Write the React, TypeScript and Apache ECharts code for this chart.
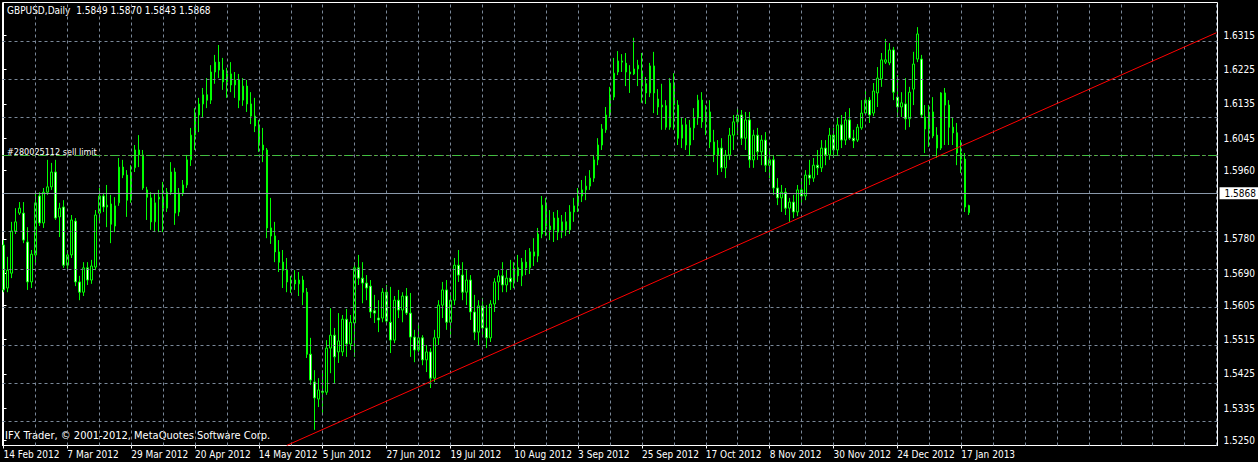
import React, { useEffect, useRef } from "react";
import * as echarts from "echarts";

const FONT = "'Liberation Sans Narrow', 'Arial Narrow', 'DejaVu Sans Condensed', sans-serif";

const symbolTitle = "GBPUSD,Daily";
const dateLabels = [
  "14 Feb 2012", "7 Mar 2012", "29 Mar 2012", "20 Apr 2012", "14 May 2012", "5 Jun 2012",
  "27 Jun 2012", "19 Jul 2012", "10 Aug 2012", "3 Sep 2012", "25 Sep 2012", "17 Oct 2012",
  "8 Nov 2012", "30 Nov 2012", "24 Dec 2012", "17 Jan 2013",
];
const priceTicks = [1.6315, 1.6225, 1.6135, 1.6045, 1.596, 1.578, 1.569, 1.5605, 1.5515, 1.5425, 1.5335, 1.525];

const opens = [
  1.5764, 1.5651, 1.5690, 1.5801, 1.5848, 1.5848, 1.5772, 1.5667, 1.5738, 1.5893, 1.5822, 1.5903, 1.5917, 1.5956, 1.5838, 1.5864,
  1.5711, 1.5738, 1.5827, 1.5667, 1.5640, 1.5704, 1.5672, 1.5706, 1.5848, 1.5893, 1.5864, 1.5872, 1.5814, 1.5875, 1.5969, 1.5948,
  1.5882, 1.5967, 1.6014, 1.6001, 1.5909, 1.5888, 1.5825, 1.5885, 1.5890, 1.5861, 1.5903, 1.5956, 1.5851, 1.5901, 1.5922, 1.5988,
  1.6053, 1.6106, 1.6135, 1.6159, 1.6145, 1.6219, 1.6245, 1.6224, 1.6193, 1.6214, 1.6185, 1.6198, 1.6145, 1.6182, 1.6135, 1.6103,
  1.6077, 1.6027, 1.6014, 1.5809, 1.5788, 1.5746, 1.5719, 1.5698, 1.5667, 1.5672, 1.5662, 1.5672, 1.5640, 1.5477, 1.5404, 1.5359,
  1.5380, 1.5377, 1.5493, 1.5527, 1.5483, 1.5483, 1.5569, 1.5504, 1.5559, 1.5704, 1.5677, 1.5664, 1.5656, 1.5591, 1.5572, 1.5572,
  1.5640, 1.5561, 1.5514, 1.5619, 1.5593, 1.5630, 1.5585, 1.5522, 1.5488, 1.5520, 1.5462, 1.5483, 1.5414, 1.5520, 1.5606, 1.5646,
  1.5561, 1.5619, 1.5711, 1.5685, 1.5640, 1.5672, 1.5588, 1.5535, 1.5604, 1.5546, 1.5520, 1.5609, 1.5667, 1.5683, 1.5659, 1.5677,
  1.5667, 1.5704, 1.5683, 1.5719, 1.5704, 1.5746, 1.5735, 1.5793, 1.5869, 1.5814, 1.5804, 1.5835, 1.5798, 1.5825, 1.5804, 1.5851,
  1.5867, 1.5893, 1.5909, 1.5919, 1.5940, 1.5988, 1.6027, 1.6067, 1.6106, 1.6153, 1.6219, 1.6248, 1.6242, 1.6219, 1.6214, 1.6227,
  1.6219, 1.6188, 1.6164, 1.6235, 1.6148, 1.6127, 1.6130, 1.6074, 1.6190, 1.6132, 1.6045, 1.6080, 1.6027, 1.6072, 1.6098, 1.6145,
  1.6088, 1.6114, 1.6035, 1.6001, 1.6019, 1.5967, 1.6001, 1.6053, 1.6088, 1.6106, 1.6045, 1.6093, 1.5988, 1.6053, 1.6009, 1.6040,
  1.5974, 1.5988, 1.5914, 1.5888, 1.5903, 1.5861, 1.5877, 1.5851, 1.5909, 1.5893, 1.5948, 1.5940, 1.5974, 1.5967, 1.6019, 1.6001,
  1.6053, 1.6014, 1.6080, 1.6040, 1.6093, 1.6045, 1.6040, 1.6072, 1.6111, 1.6145, 1.6111, 1.6164, 1.6201, 1.6245, 1.6243, 1.6277,
  1.6153, 1.6127, 1.6135, 1.6096, 1.6174, 1.6253, 1.6253, 1.6101, 1.6069, 1.6114, 1.6053, 1.6019, 1.6164, 1.6132, 1.6074, 1.6059,
  1.6006, 1.5990, 1.5849,
];
const highs = [
  1.5777, 1.5733, 1.5825, 1.5861, 1.5877, 1.5877, 1.5811, 1.5751, 1.5901, 1.5903, 1.5914, 1.5988, 1.5980, 1.5988, 1.5875, 1.5882,
  1.5751, 1.5843, 1.5835, 1.5683, 1.5719, 1.5719, 1.5725, 1.5856, 1.5914, 1.5901, 1.5922, 1.5896, 1.5890, 1.5993, 1.5988, 1.5961,
  1.5974, 1.6027, 1.6053, 1.6014, 1.5917, 1.5903, 1.5901, 1.5909, 1.5930, 1.5914, 1.5982, 1.5967, 1.5914, 1.5935, 1.6001, 1.6072,
  1.6124, 1.6151, 1.6177, 1.6203, 1.6237, 1.6264, 1.6290, 1.6256, 1.6230, 1.6245, 1.6219, 1.6214, 1.6203, 1.6198, 1.6166, 1.6151,
  1.6093, 1.6072, 1.6019, 1.5888, 1.5825, 1.5777, 1.5751, 1.5730, 1.5683, 1.5698, 1.5693, 1.5683, 1.5651, 1.5520, 1.5435, 1.5414,
  1.5435, 1.5514, 1.5598, 1.5546, 1.5585, 1.5580, 1.5596, 1.5580, 1.5719, 1.5738, 1.5719, 1.5685, 1.5672, 1.5633, 1.5619, 1.5651,
  1.5659, 1.5654, 1.5630, 1.5646, 1.5640, 1.5651, 1.5638, 1.5541, 1.5554, 1.5527, 1.5501, 1.5493, 1.5541, 1.5619, 1.5667, 1.5672,
  1.5640, 1.5730, 1.5751, 1.5719, 1.5698, 1.5685, 1.5633, 1.5619, 1.5625, 1.5606, 1.5619, 1.5677, 1.5698, 1.5719, 1.5698, 1.5725,
  1.5719, 1.5738, 1.5730, 1.5751, 1.5756, 1.5782, 1.5809, 1.5893, 1.5888, 1.5856, 1.5851, 1.5856, 1.5843, 1.5851, 1.5869, 1.5888,
  1.5914, 1.5935, 1.5946, 1.5961, 1.6001, 1.6045, 1.6082, 1.6127, 1.6180, 1.6256, 1.6274, 1.6266, 1.6269, 1.6237, 1.6309, 1.6251,
  1.6269, 1.6206, 1.6243, 1.6272, 1.6174, 1.6188, 1.6145, 1.6203, 1.6216, 1.6145, 1.6098, 1.6098, 1.6093, 1.6124, 1.6159, 1.6166,
  1.6132, 1.6145, 1.6067, 1.6040, 1.6045, 1.6014, 1.6072, 1.6106, 1.6124, 1.6119, 1.6114, 1.6114, 1.6067, 1.6072, 1.6053, 1.6061,
  1.6019, 1.6001, 1.5940, 1.5922, 1.5914, 1.5888, 1.5896, 1.5922, 1.5940, 1.5961, 1.5988, 1.5993, 1.6014, 1.6040, 1.6040, 1.6072,
  1.6072, 1.6098, 1.6106, 1.6114, 1.6124, 1.6067, 1.6082, 1.6145, 1.6169, 1.6153, 1.6190, 1.6232, 1.6269, 1.6306, 1.6295, 1.6285,
  1.6211, 1.6166, 1.6203, 1.6180, 1.6272, 1.6337, 1.6264, 1.6132, 1.6132, 1.6153, 1.6074, 1.6166, 1.6177, 1.6145, 1.6098, 1.6085,
  1.6040, 1.6006, 1.5870,
];
const lows = [
  1.5640, 1.5640, 1.5677, 1.5793, 1.5843, 1.5769, 1.5646, 1.5651, 1.5717, 1.5814, 1.5809, 1.5896, 1.5909, 1.5830, 1.5785, 1.5704,
  1.5698, 1.5730, 1.5656, 1.5619, 1.5630, 1.5659, 1.5662, 1.5698, 1.5822, 1.5851, 1.5811, 1.5769, 1.5798, 1.5867, 1.5940, 1.5838,
  1.5875, 1.5956, 1.5969, 1.5909, 1.5830, 1.5804, 1.5798, 1.5798, 1.5798, 1.5851, 1.5896, 1.5817, 1.5840, 1.5893, 1.5914, 1.5972,
  1.6014, 1.6061, 1.6098, 1.6124, 1.6135, 1.6188, 1.6203, 1.6172, 1.6151, 1.6166, 1.6151, 1.6124, 1.6130, 1.6114, 1.6082, 1.6061,
  1.6009, 1.5982, 1.5782, 1.5767, 1.5719, 1.5693, 1.5651, 1.5640, 1.5638, 1.5646, 1.5630, 1.5606, 1.5467, 1.5396, 1.5278, 1.5338,
  1.5317, 1.5370, 1.5427, 1.5401, 1.5454, 1.5472, 1.5470, 1.5488, 1.5470, 1.5659, 1.5611, 1.5619, 1.5572, 1.5559, 1.5535, 1.5561,
  1.5554, 1.5480, 1.5506, 1.5572, 1.5561, 1.5580, 1.5470, 1.5456, 1.5483, 1.5448, 1.5430, 1.5388, 1.5404, 1.5501, 1.5572, 1.5541,
  1.5520, 1.5606, 1.5667, 1.5619, 1.5606, 1.5567, 1.5514, 1.5501, 1.5527, 1.5493, 1.5509, 1.5588, 1.5619, 1.5640, 1.5640, 1.5646,
  1.5651, 1.5667, 1.5656, 1.5685, 1.5688, 1.5709, 1.5719, 1.5782, 1.5788, 1.5777, 1.5772, 1.5777, 1.5782, 1.5788, 1.5793, 1.5825,
  1.5851, 1.5877, 1.5882, 1.5909, 1.5930, 1.5974, 1.6014, 1.6059, 1.6101, 1.6145, 1.6211, 1.6219, 1.6182, 1.6164, 1.6211, 1.6182,
  1.6138, 1.6135, 1.6153, 1.6111, 1.6106, 1.6067, 1.6067, 1.6067, 1.6067, 1.6027, 1.6019, 1.6014, 1.6001, 1.6040, 1.6080, 1.6072,
  1.6053, 1.6019, 1.5982, 1.5948, 1.5956, 1.5940, 1.5988, 1.6014, 1.6053, 1.6027, 1.6014, 1.5967, 1.5967, 1.5988, 1.5974, 1.5956,
  1.5940, 1.5896, 1.5869, 1.5851, 1.5843, 1.5825, 1.5835, 1.5840, 1.5869, 1.5882, 1.5922, 1.5930, 1.5948, 1.5956, 1.5974, 1.5988,
  1.5993, 1.6001, 1.6019, 1.6027, 1.6040, 1.6019, 1.6035, 1.6067, 1.6106, 1.6085, 1.6103, 1.6127, 1.6180, 1.6240, 1.6237, 1.6145,
  1.6101, 1.6101, 1.6067, 1.6074, 1.6132, 1.6245, 1.6098, 1.6006, 1.6022, 1.6045, 1.5993, 1.6014, 1.6027, 1.6027, 1.6027, 1.5974,
  1.5953, 1.5851, 1.5843,
];
const closes = [
  1.5646, 1.5698, 1.5801, 1.5825, 1.5861, 1.5777, 1.5667, 1.5740, 1.5875, 1.5822, 1.5903, 1.5917, 1.5956, 1.5835, 1.5861, 1.5711,
  1.5738, 1.5830, 1.5667, 1.5640, 1.5704, 1.5672, 1.5709, 1.5843, 1.5893, 1.5864, 1.5869, 1.5819, 1.5867, 1.5969, 1.5948, 1.5882,
  1.5956, 1.6014, 1.6001, 1.5914, 1.5890, 1.5825, 1.5875, 1.5890, 1.5861, 1.5903, 1.5956, 1.5848, 1.5901, 1.5922, 1.5988, 1.6053,
  1.6106, 1.6135, 1.6159, 1.6145, 1.6219, 1.6245, 1.6224, 1.6193, 1.6214, 1.6185, 1.6198, 1.6145, 1.6182, 1.6135, 1.6103, 1.6077,
  1.6027, 1.6014, 1.5809, 1.5788, 1.5746, 1.5719, 1.5698, 1.5667, 1.5672, 1.5662, 1.5672, 1.5640, 1.5477, 1.5409, 1.5362, 1.5383,
  1.5377, 1.5493, 1.5527, 1.5470, 1.5512, 1.5569, 1.5504, 1.5561, 1.5704, 1.5677, 1.5664, 1.5651, 1.5588, 1.5585, 1.5567, 1.5640,
  1.5564, 1.5514, 1.5619, 1.5593, 1.5630, 1.5585, 1.5522, 1.5488, 1.5520, 1.5462, 1.5483, 1.5414, 1.5520, 1.5606, 1.5646, 1.5561,
  1.5619, 1.5711, 1.5685, 1.5640, 1.5672, 1.5588, 1.5535, 1.5604, 1.5546, 1.5520, 1.5609, 1.5667, 1.5683, 1.5659, 1.5677, 1.5667,
  1.5704, 1.5683, 1.5719, 1.5704, 1.5746, 1.5735, 1.5793, 1.5869, 1.5814, 1.5804, 1.5835, 1.5798, 1.5825, 1.5804, 1.5851, 1.5867,
  1.5893, 1.5909, 1.5919, 1.5940, 1.5988, 1.6027, 1.6069, 1.6106, 1.6153, 1.6216, 1.6248, 1.6245, 1.6219, 1.6214, 1.6227, 1.6237,
  1.6182, 1.6164, 1.6235, 1.6164, 1.6127, 1.6132, 1.6074, 1.6190, 1.6132, 1.6045, 1.6080, 1.6027, 1.6072, 1.6098, 1.6145, 1.6088,
  1.6114, 1.6035, 1.6001, 1.6019, 1.5967, 1.6001, 1.6053, 1.6088, 1.6106, 1.6045, 1.6093, 1.5988, 1.6053, 1.6009, 1.6040, 1.5974,
  1.5988, 1.5914, 1.5888, 1.5903, 1.5861, 1.5877, 1.5851, 1.5909, 1.5893, 1.5948, 1.5940, 1.5974, 1.5967, 1.6019, 1.6001, 1.6053,
  1.6014, 1.6080, 1.6040, 1.6093, 1.6045, 1.6038, 1.6074, 1.6111, 1.6145, 1.6106, 1.6169, 1.6203, 1.6251, 1.6251, 1.6277, 1.6166,
  1.6127, 1.6138, 1.6096, 1.6166, 1.6240, 1.6319, 1.6106, 1.6069, 1.6114, 1.6051, 1.6019, 1.6164, 1.6132, 1.6074, 1.6059, 1.6006,
  1.5990, 1.5864, 1.5868,
];

const currentPrice = 1.5868;
const stopLossLevel = 1.6047;
const sellLimitLevels = [1.5992, 1.5987];
const sellLimitText = "#280025112 sell limit";
const trendLine = [[71, 1.52372], [304, 1.63224]];
const copyrightText = "IFX Trader, © 2001-2012, MetaQuotes Software Corp.";

const Y_MIN = 1.52369;
const Y_MAX = 1.640177;
const X_MIN = -0.25;
const X_MAX = 304.25;

export default function App() {
  const ref = useRef<HTMLDivElement>(null);
  useEffect(() => {
    const chart = echarts.init(ref.current!, null, { renderer: "svg" });
    const n = Math.min(opens.length, highs.length, lows.length, closes.length);
    const candles: number[][] = [];
    for (let i = 0; i < n; i++) candles.push([i, opens[i], closes[i], lows[i], highs[i]]);
    const last = n - 1;
    const labelIdx = dateLabels.map((_, k) => k * 16);
    const vGrid: any[] = [];
    for (let i = 8; i <= 304; i += 8) vGrid.push({ xAxis: i });
    const gridStyle = { color: "#7a8899", type: [3, 3], width: 1 };
    const dashDot = [8, 4, 2, 4];
    const markData: any[] = [
      ...priceTicks.map((v) => ({ yAxis: v, lineStyle: gridStyle, label: { show: false } })),
      ...vGrid.map((d) => ({ ...d, lineStyle: gridStyle, label: { show: false } })),
      { yAxis: stopLossLevel, lineStyle: { color: "#ff0000", type: dashDot, width: 1 }, label: { show: false } },
      ...sellLimitLevels.map((v) => ({ yAxis: v, lineStyle: { color: "#40c040", type: dashDot, width: 1 }, label: { show: false } })),
      {
        yAxis: currentPrice,
        lineStyle: { color: "#8a99aa", type: "solid", width: 1 },
        label: {
          show: true, position: "end", formatter: currentPrice.toFixed(4), color: "#000", backgroundColor: "#fff",
          padding: [1, 8, 1, 5], distance: 2, fontFamily: FONT, fontSize: 10,
        },
      },
      [
        { coord: trendLine[0], lineStyle: { color: "#ff0000", width: 1, type: "solid" } },
        { coord: trendLine[1] },
      ],
    ];
    const option: any = {
      animation: false,
      backgroundColor: "#000",
      textStyle: { fontFamily: FONT },
      grid: { left: 2.5, top: 2.5, width: 1218, height: 443, show: true, borderColor: "#fff", borderWidth: 1 },
      xAxis: {
        type: "value", min: X_MIN, max: X_MAX,
        axisLine: { show: true, lineStyle: { color: "#fff" } },
        axisTick: { show: true, customValues: labelIdx, length: 3, lineStyle: { color: "#fff" } },
        axisLabel: {
          show: true, customValues: labelIdx, color: "#fff", fontFamily: FONT, fontSize: 10, align: "left", margin: 4,
          formatter: (v: number) => dateLabels[Math.round(v / 16)] ?? "",
        },
        splitLine: { show: false },
      },
      yAxis: {
        type: "value", position: "right", min: Y_MIN, max: Y_MAX,
        axisLine: { show: true, lineStyle: { color: "#fff" } },
        axisTick: { show: true, customValues: priceTicks, length: 3, lineStyle: { color: "#fff" } },
        axisLabel: {
          show: true, customValues: priceTicks, color: "#fff", fontFamily: FONT, fontSize: 10, margin: 6,
          formatter: (v: number) => v.toFixed(4),
        },
        splitLine: { show: false },
      },
      series: [
        {
          type: "candlestick",
          data: candles,
          encode: { x: 0, y: [1, 2, 3, 4] },
          barWidth: 2,
          clip: false,
          itemStyle: { color: "#000", color0: "#fff", borderColor: "#00ff00", borderColor0: "#00ff00", borderWidth: 1 },
          markLine: { symbol: ["none", "none"], silent: true, animation: false, data: markData },
          z: 3,
        },
      ],
      graphic: [
        {
          type: "text", left: 7, top: 5,
          style: {
            text: `${symbolTitle}  ${opens[last].toFixed(4)} ${highs[last].toFixed(4)} ${lows[last].toFixed(4)} ${closes[last].toFixed(4)}`,
            fill: "#fff", font: `10px ${FONT}`,
          },
        },
        { type: "text", left: 7, top: 147, style: { text: sellLimitText, fill: "#fff", font: `9px ${FONT}` } },
        { type: "text", left: 5, top: 430, style: { text: copyrightText, fill: "#fff", font: `11px ${FONT}` } },
      ],
    };
    chart.setOption(option);
    return () => chart.dispose();
  }, []);
  return <div ref={ref} style={{ position: "fixed", left: 0, top: 0, width: 1258, height: 462, background: "#000" }} />;
}
